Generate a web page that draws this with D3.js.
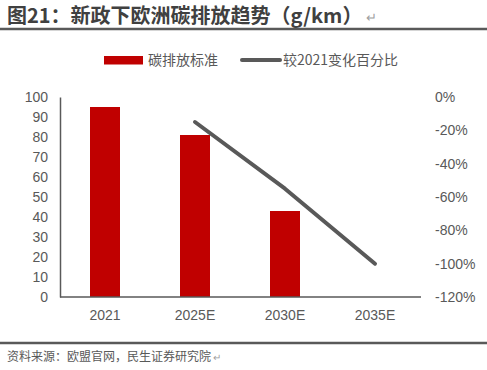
<!DOCTYPE html>
<html>
<head>
<meta charset="utf-8">
<script src="https://cdn.jsdelivr.net/npm/d3@7"></script>
<style>
  body { margin: 0; background: #fff; }
  svg { display: block; font-family: "Noto Sans CJK SC", "Microsoft YaHei", sans-serif; }
</style>
</head>
<body>
<div id="chart"></div>
<script>
// chart data
const categories = ['2021', '2025E', '2030E', '2035E'];
const emissions = [95, 81, 43, null];          // 碳排放标准 g/km
const changePct = [null, -15, -55, -100];      // 较2021变化百分比
const leftTicks = [0, 10, 20, 30, 40, 50, 60, 70, 80, 90, 100];
const rightTicks = [0, -20, -40, -60, -80, -100, -120];

const width = 487, height = 370;
const red = '#c00000', grey = '#595959', text = '#595959';

const svg = d3.select('#chart').append('svg')
    .attr('width', width)
    .attr('height', height);

// title
svg.append('text')
    .attr('x', 7)
    .attr('y', 23)
    .attr('font-size', 20)
    .attr('font-weight', 'bold')
    .attr('fill', '#404040')
    .text('图21：新政下欧洲碳排放趋势（g/km）');
svg.append('text')
    .attr('x', 366)
    .attr('y', 22)
    .attr('font-size', 13)
    .attr('fill', '#a0a0a0')
    .text('↵');
svg.append('line')
    .attr('x1', 0).attr('x2', width)
    .attr('y1', 29).attr('y2', 29)
    .attr('stroke', grey)
    .attr('stroke-width', 2.5);

// scales
const x = d3.scaleBand().domain(categories).range([60, 420]);
const yLeft = d3.scaleLinear().domain([0, 100]).range([297, 97]);
const yRight = d3.scaleLinear().domain([-120, 0]).range([297, 97]);
const barW = x.bandwidth() / 3;

// bars
svg.append('g').selectAll('rect')
    .data(categories.map((c, i) => ({c, v: emissions[i]})).filter(d => d.v != null))
    .enter().append('rect')
    .attr('x', d => x(d.c) + x.bandwidth() / 2 - barW / 2)
    .attr('y', d => yLeft(d.v))
    .attr('width', barW)
    .attr('height', d => yLeft(0) - yLeft(d.v))
    .attr('fill', red);

// line
const lineData = categories.map((c, i) => ({c, v: changePct[i]})).filter(d => d.v != null);
svg.append('path')
    .datum(lineData)
    .attr('d', d3.line().x(d => x(d.c) + x.bandwidth() / 2).y(d => yRight(d.v)))
    .attr('fill', 'none')
    .attr('stroke', grey)
    .attr('stroke-width', 4)
    .attr('stroke-linecap', 'round')
    .attr('stroke-linejoin', 'round');

// left axis
const axL = svg.append('g')
    .attr('transform', 'translate(60,0)')
    .call(d3.axisLeft(yLeft).tickValues(leftTicks).tickSize(0).tickPadding(12));
axL.select('.domain').attr('stroke', grey).attr('stroke-width', 1.5);
axL.selectAll('text').attr('fill', text).attr('font-size', 14).attr('font-family', null);

// right axis labels (no line)
const axR = svg.append('g')
    .attr('transform', 'translate(420,0)')
    .call(d3.axisRight(yRight).tickValues(rightTicks).tickSize(0).tickPadding(15).tickFormat(d => d + '%'));
axR.select('.domain').remove();
axR.selectAll('text').attr('fill', text).attr('font-size', 14).attr('font-family', null);

// x axis
const axB = svg.append('g')
    .attr('transform', 'translate(0,297)')
    .call(d3.axisBottom(x).tickSize(0).tickPadding(13));
axB.select('.domain').attr('stroke', grey).attr('stroke-width', 1.5).attr('d', 'M60,0H421');
axB.selectAll('text').attr('fill', text).attr('font-size', 14).attr('font-family', null);

// legend
const leg = svg.append('g').attr('font-size', 14).attr('fill', text);
leg.append('rect').attr('x', 104).attr('y', 56).attr('width', 39).attr('height', 8.5).attr('fill', red);
leg.append('text').attr('x', 148).attr('y', 65).text('碳排放标准');
leg.append('line').attr('x1', 242).attr('x2', 280).attr('y1', 60).attr('y2', 60)
    .attr('stroke', grey).attr('stroke-width', 4).attr('stroke-linecap', 'round');
leg.append('text').attr('x', 283).attr('y', 65).text('较2021变化百分比');

// source
svg.append('line')
    .attr('x1', 0).attr('x2', width)
    .attr('y1', 343).attr('y2', 343)
    .attr('stroke', grey)
    .attr('stroke-width', 2.5);
svg.append('text')
    .attr('x', 7)
    .attr('y', 361)
    .attr('font-size', 12)
    .attr('fill', text)
    .text('资料来源：欧盟官网，民生证券研究院');
svg.append('text')
    .attr('x', 213)
    .attr('y', 361)
    .attr('font-size', 10)
    .attr('fill', '#a0a0a0')
    .text('↵');
</script>
</body>
</html>
